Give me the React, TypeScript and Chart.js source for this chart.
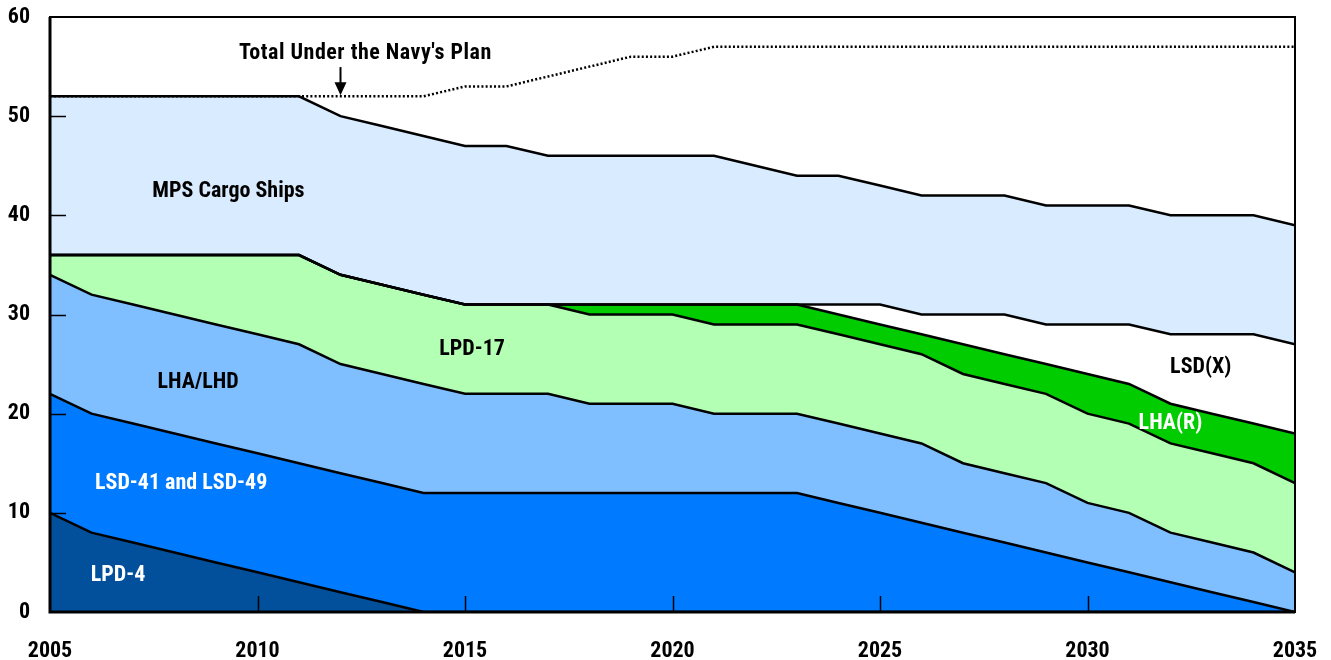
import React, { useEffect, useRef } from "react";
import { Chart, registerables } from "chart.js";

Chart.register(...registerables);

const years = [
  2005, 2006, 2007, 2008, 2009, 2010, 2011, 2012, 2013, 2014, 2015, 2016, 2017, 2018, 2019, 2020,
  2021, 2022, 2023, 2024, 2025, 2026, 2027, 2028, 2029, 2030, 2031, 2032, 2033, 2034, 2035,
];
const lpd4 = [10, 8, 7, 6, 5, 4, 3, 2, 1, 0, 0, 0, 0, 0, 0, 0, 0, 0, 0, 0, 0, 0, 0, 0, 0, 0, 0, 0, 0, 0, 0];
const lsd41and49 = [12, 12, 12, 12, 12, 12, 12, 12, 12, 12, 12, 12, 12, 12, 12, 12, 12, 12, 12, 11, 10, 9, 8, 7, 6, 5, 4, 3, 2, 1, 0];
const lhaLhd = [12, 12, 12, 12, 12, 12, 12, 11, 11, 11, 10, 10, 10, 9, 9, 9, 8, 8, 8, 8, 8, 8, 7, 7, 7, 6, 6, 5, 5, 5, 4];
const lpd17 = [2, 4, 5, 6, 7, 8, 9, 9, 9, 9, 9, 9, 9, 9, 9, 9, 9, 9, 9, 9, 9, 9, 9, 9, 9, 9, 9, 9, 9, 9, 9];
const lhaR = [0, 0, 0, 0, 0, 0, 0, 0, 0, 0, 0, 0, 0, 1, 1, 1, 2, 2, 2, 2, 2, 2, 3, 3, 3, 4, 4, 4, 4, 4, 5];
const lsdX = [0, 0, 0, 0, 0, 0, 0, 0, 0, 0, 0, 0, 0, 0, 0, 0, 0, 0, 0, 1, 2, 2, 3, 4, 4, 5, 6, 7, 8, 9, 9];
const mpsCargo = [16, 16, 16, 16, 16, 16, 16, 16, 16, 16, 16, 16, 15, 15, 15, 15, 15, 14, 13, 13, 12, 12, 12, 12, 12, 12, 12, 12, 12, 12, 12];
const totalNavyPlan = [52, 52, 52, 52, 52, 52, 52, 52, 52, 52, 53, 53, 54, 55, 56, 56, 57, 57, 57, 57, 57, 57, 57, 57, 57, 57, 57, 57, 57, 57, 57];

const yTicks = [0, 10, 20, 30, 40, 50, 60];
const xTicks = [2005, 2010, 2015, 2020, 2025, 2030, 2035];

const seriesNames = ["LPD-4", "LSD-41 and LSD-49", "LHA/LHD", "LPD-17", "LHA(R)", "LSD(X)", "MPS Cargo Ships"];
const seriesValues = [lpd4, lsd41and49, lhaLhd, lpd17, lhaR, lsdX, mpsCargo];
const seriesColors = ["#02509c", "#007bff", "#80bfff", "#b3ffb3", "#00cc00", "#ffffff", "#d9ecff"];

// area labels: [text, year, value, color]
const areaLabels: [string, number, number, string][] = [
  ["MPS Cargo Ships", 2009.3, 42.4, "#000000"],
  ["LPD-17", 2015.17, 26.5, "#000000"],
  ["LHA/LHD", 2008.57, 23.1, "#000000"],
  ["LSD-41 and LSD-49", 2008.16, 13.0, "#ffffff"],
  ["LPD-4", 2006.64, 3.73, "#ffffff"],
  ["LSD(X)", 2032.73, 24.7, "#000000"],
  ["LHA(R)", 2032.0, 19.05, "#ffffff"],
];
const totalLabel = "Total Under the Navy's Plan";

const FONT = "'Roboto Condensed', 'DejaVu Sans Condensed', sans-serif";
const FONT_SIZE = 22;

const decorPlugin = {
  id: "decor",
  afterDatasetsDraw(chart: any) {
    const { ctx, chartArea, scales } = chart;
    const xs = scales.x;
    const ys = scales.y;
    ctx.save();
    // inward tick marks
    ctx.strokeStyle = "#000";
    ctx.lineWidth = 1.5;
    yTicks.slice(1, -1).forEach((v) => {
      const py = Math.round(ys.getPixelForValue(v)) + 0.5;
      ctx.beginPath();
      ctx.moveTo(chartArea.left, py);
      ctx.lineTo(chartArea.left + 16, py);
      ctx.stroke();
    });
    xTicks.slice(1, -1).forEach((v) => {
      const px = Math.round(xs.getPixelForValue(v)) + 0.5;
      ctx.beginPath();
      ctx.moveTo(px, chartArea.bottom);
      ctx.lineTo(px, chartArea.bottom - 16);
      ctx.stroke();
    });
    // frame
    ctx.lineWidth = 2;
    ctx.strokeRect(chartArea.left, chartArea.top, chartArea.right - chartArea.left, chartArea.bottom - chartArea.top);
    ctx.lineWidth = 3;
    ctx.beginPath();
    ctx.moveTo(chartArea.left, chartArea.top);
    ctx.lineTo(chartArea.left, chartArea.bottom);
    ctx.lineTo(chartArea.right, chartArea.bottom);
    ctx.stroke();

    // area labels
    ctx.font = `bold ${FONT_SIZE}px ${FONT}`;
    ctx.textAlign = "center";
    ctx.textBaseline = "middle";
    areaLabels.forEach(([t, yr, val, col]) => {
      ctx.fillStyle = col;
      ctx.fillText(t, xs.getPixelForValue(yr), ys.getPixelForValue(val));
    });

    // total annotation and arrow
    ctx.fillStyle = "#000";
    (ctx as any).letterSpacing = "0.5px";
    ctx.fillText(totalLabel, xs.getPixelForValue(2012.6), ys.getPixelForValue(56.35));
    (ctx as any).letterSpacing = "0px";
    const ax = xs.getPixelForValue(2012);
    const yTop = ys.getPixelForValue(54.95);
    const yTip = ys.getPixelForValue(totalNavyPlan[years.indexOf(2012)]) - 1;
    ctx.lineWidth = 2;
    ctx.beginPath();
    ctx.moveTo(ax, yTop);
    ctx.lineTo(ax, yTip - 8);
    ctx.stroke();
    ctx.beginPath();
    ctx.moveTo(ax - 6, yTip - 13);
    ctx.lineTo(ax + 6, yTip - 13);
    ctx.lineTo(ax, yTip);
    ctx.closePath();
    ctx.fill();
    ctx.restore();
  },
};

export default function App() {
  const canvasRef = useRef<HTMLCanvasElement | null>(null);

  useEffect(() => {
    document.body.style.margin = "0";
    const canvas = canvasRef.current;
    if (!canvas) return;

    const stacked = seriesValues.map((vals, i) => ({
      label: seriesNames[i],
      data: years.map((yr, j) => ({ x: yr, y: vals[j] })),
      backgroundColor: seriesColors[i],
      borderColor: "#000000",
      borderWidth: 2.5,
      fill: i === 0 ? "origin" : "-1",
      pointRadius: 0,
      tension: 0,
      stack: "ships",
    }));

    const totalDs = {
      label: totalLabel,
      data: years.map((yr, j) => ({ x: yr, y: totalNavyPlan[j] })),
      borderColor: "#000000",
      borderWidth: 2.5,
      borderDash: [2, 2.2],
      fill: false,
      pointRadius: 0,
      tension: 0,
      stack: "total",
    };

    const zeroPad = (s: any) => {
      s.paddingTop = 0;
      s.paddingBottom = 0;
      s.paddingLeft = 0;
      s.paddingRight = 0;
    };

    const chart = new Chart(canvas, {
      type: "line",
      data: { datasets: [...stacked, totalDs] as any },
      options: {
        animation: false,
        responsive: true,
        maintainAspectRatio: false,
        layout: { padding: { top: 17, right: 36, left: 0, bottom: 0 } },
        plugins: {
          legend: { display: false },
          tooltip: { enabled: false },
          filler: { drawTime: "beforeDatasetsDraw" } as any,
        },
        scales: {
          x: {
            type: "linear",
            min: 2005,
            max: 2035,
            afterFit: (s: any) => {
              s.height = 48;
              zeroPad(s);
            },
            afterBuildTicks: (s: any) => {
              s.ticks = xTicks.map((v) => ({ value: v }));
            },
            ticks: {
              padding: 26,
              color: "#000",
              font: { family: FONT, size: FONT_SIZE, weight: "bold" },
              callback: (v: any) => String(v),
              maxRotation: 0,
            },
            grid: { display: false, drawTicks: false },
            border: { display: false },
          },
          y: {
            stacked: true,
            min: 0,
            max: 60,
            afterFit: (s: any) => {
              s.width = 50;
              zeroPad(s);
            },
            afterBuildTicks: (s: any) => {
              s.ticks = yTicks.map((v) => ({ value: v }));
            },
            ticks: {
              padding: 20,
              color: "#000",
              font: { family: FONT, size: FONT_SIZE, weight: "bold" },
            },
            grid: { display: false, drawTicks: false },
            border: { display: false },
          },
        },
      },
      plugins: [decorPlugin],
    });

    return () => chart.destroy();
  }, []);

  return (
    <div style={{ width: "1331px", height: "660px", position: "relative" }}>
      <canvas ref={canvasRef} />
    </div>
  );
}
